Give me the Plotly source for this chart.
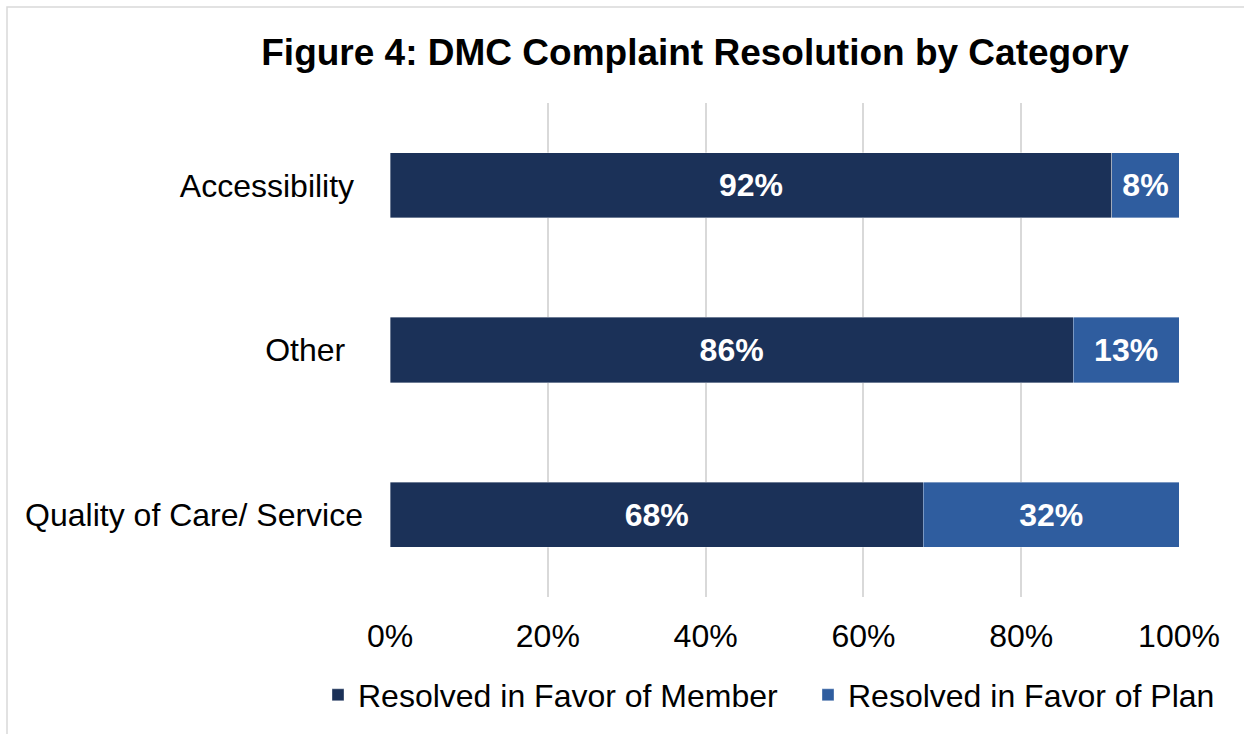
import plotly.graph_objects as go

categories = ["Accessibility", "Other", "Quality of Care/ Service"]
tick_pad = ["\u00a0", "\u00a0\u00a0", ""]
member_vals = [91.5, 86.6, 67.6]
plan_vals = [8.5, 13.4, 32.4]
member_labels = ["92%", "86%", "68%"]
plan_labels = ["8%", "13%", "32%"]
x_ticks = [0, 20, 40, 60, 80, 100]
x_ticktext = ["0%", "20%", "40%", "60%", "80%", "100%"]

FONT = "Arial, Liberation Sans, sans-serif"
DARK = "#1b3158"
LIGHT = "#2f5d9f"
FS = 32

fig = go.Figure()
fig.add_trace(go.Bar(
    y=categories, x=member_vals, orientation="h",
    name="Resolved in Favor of Member",
    marker=dict(color=DARK, line=dict(color="rgba(255,255,255,0.45)", width=0.8)),
    text=member_labels, textposition="inside", insidetextanchor="middle",
    textfont=dict(family=FONT, size=FS, color="white", weight="bold"),
    constraintext="none",
))
fig.add_trace(go.Bar(
    y=categories, x=plan_vals, orientation="h",
    name="Resolved in Favor of Plan",
    marker=dict(color=LIGHT, line=dict(color="rgba(255,255,255,0.45)", width=0.8)),
    text=plan_labels, textposition="inside", insidetextanchor="middle",
    textfont=dict(family=FONT, size=FS, color="white", weight="bold"),
    constraintext="none",
))

W, H = 1244, 734
L, R, T, B = 390, 65, 103, 137
pw, ph = W - L - R, H - T - B

def px_x(x):
    return (x - L) / pw

def px_y(y):
    return (H - B - y) / ph

fig.update_layout(
    width=W, height=H,
    barmode="stack", bargap=0.605,
    margin=dict(l=L, r=R, t=T, b=B, pad=0, autoexpand=False),
    plot_bgcolor="white", paper_bgcolor="white",
    font=dict(family=FONT, size=FS, color="#000000"),
    title=dict(text="<b>Figure 4: DMC Complaint Resolution by Category</b>",
               font=dict(family=FONT, size=37, color="#000000"),
               x=695 / W, xanchor="center", xref="container",
               y=1 - 52 / H, yanchor="middle", yref="container"),
    xaxis=dict(range=[0, 100], tickvals=x_ticks, ticktext=x_ticktext,
               showgrid=True, gridcolor="#d9d9d9", gridwidth=1.5,
               zeroline=False, showline=False, ticks="",
               tickfont=dict(family=FONT, size=FS, color="#000000"),
               ticklabelstandoff=17, fixedrange=True, automargin=False),
    yaxis=dict(categoryorder="array", categoryarray=categories,
               tickvals=categories,
               ticktext=[c + p for c, p in zip(categories, tick_pad)],
               autorange="reversed", showgrid=False, zeroline=False,
               showline=False, ticks="",
               tickfont=dict(family=FONT, size=FS, color="#000000"),
               ticklabelstandoff=26, fixedrange=True, automargin=False),
    legend=dict(orientation="h", xanchor="left", x=px_x(318), xref="paper",
                yanchor="middle", y=px_y(695), yref="paper",
                font=dict(family=FONT, size=FS, color="#000000"),
                traceorder="normal", itemclick=False, itemwidth=30,
                entrywidth=445, entrywidthmode="pixels"),
    showlegend=True,
    shapes=[dict(type="rect", xref="paper", yref="paper",
                 x0=px_x(7), x1=px_x(1260), y0=px_y(760), y1=px_y(7),
                 line=dict(color="#d9d9d9", width=1.5), layer="below")],
)

fig.write_html("out.html")
